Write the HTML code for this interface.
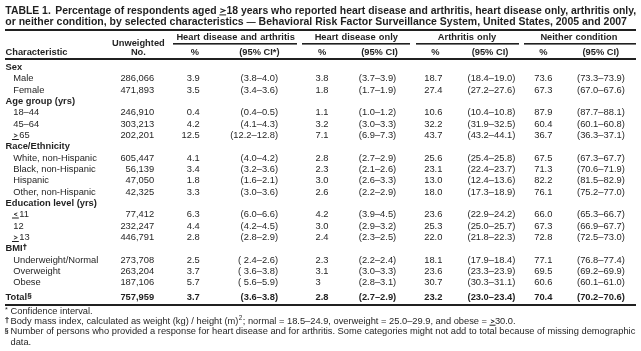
<!DOCTYPE html><html><head><meta charset="utf-8"><style>
html,body{margin:0;padding:0;background:#fff;}
body{width:641px;height:351px;position:relative;overflow:hidden;filter:grayscale(1);font-family:"Liberation Sans",sans-serif;color:#231f20;}
.t{position:absolute;white-space:nowrap;line-height:1;}
.b{font-weight:bold;}
.rule{position:absolute;background:#231f20;}
.ge{display:inline-block;overflow:visible;}
sup{font-size:62%;vertical-align:0;position:relative;top:-0.42em;}
u{text-decoration:underline;text-underline-offset:1.6px;text-decoration-thickness:1px;}

</style></head><body>
<div class="t b" style="left:5.30px;top:6.28px;font-size:10.425px">TABLE 1.<span style="display:inline-block;width:4.5px"></span>Percentage of respondents aged <svg class="ge" width="7.0" height="8.0" viewBox="0 0 7.0 8.0" style="vertical-align:-2px"><polyline points="0.30,0.70 5.00,2.60 0.30,4.50" fill="none" stroke="#231f20" stroke-width="1.1" stroke-linejoin="miter"/><rect x="-0.6" y="6.40" width="6.70" height="1" fill="#231f20"/></svg>18 years who reported heart disease and arthritis, heart disease only, arthritis only,</div>
<div class="t b" style="left:5.30px;top:16.92px;font-size:10.49px">or neither condition, by selected characteristics <span style="font-size:9.2px;position:relative;top:-0.3px">—</span> Behavioral Risk Factor Surveillance System, United States, 2005 and 2007</div>
<div class="rule" style="left:4.8px;top:29px;width:631.20px;height:2px"></div>
<div class="rule" style="left:173.3px;top:43px;width:123.40px;height:2px;background:linear-gradient(#231f20 0 1px,#7a7878 1px 2px)"></div>
<div class="rule" style="left:302.1px;top:43px;width:107.50px;height:2px;background:linear-gradient(#231f20 0 1px,#7a7878 1px 2px)"></div>
<div class="rule" style="left:415.9px;top:43px;width:102.80px;height:2px;background:linear-gradient(#231f20 0 1px,#7a7878 1px 2px)"></div>
<div class="rule" style="left:523.8px;top:43px;width:112.70px;height:2px;background:linear-gradient(#231f20 0 1px,#7a7878 1px 2px)"></div>
<div class="rule" style="left:4.8px;top:58px;width:631.20px;height:2px"></div>
<div class="rule" style="left:4.8px;top:304px;width:631.20px;height:2px"></div>
<div class="t b" style="left:-61.60px;width:400px;text-align:center;top:39.23px;font-size:9.3px">Unweighted</div>
<div class="t b" style="left:-61.60px;width:400px;text-align:center;top:48.33px;font-size:9.3px">No.</div>
<div class="t b" style="left:5.50px;top:48.33px;font-size:9.3px">Characteristic</div>
<div class="t b" style="left:35.60px;width:400px;text-align:center;top:33.23px;font-size:9.3px;word-spacing:0.55px">Heart disease and arthritis</div>
<div class="t b" style="left:-5.20px;width:400px;text-align:center;top:48.33px;font-size:9.3px">%</div>
<div class="t b" style="left:59.40px;width:400px;text-align:center;top:48.33px;font-size:9.3px">(95% CI*)</div>
<div class="t b" style="left:156.30px;width:400px;text-align:center;top:33.23px;font-size:9.3px;word-spacing:0.55px">Heart disease only</div>
<div class="t b" style="left:122.20px;width:400px;text-align:center;top:48.33px;font-size:9.3px">%</div>
<div class="t b" style="left:179.50px;width:400px;text-align:center;top:48.33px;font-size:9.3px">(95% CI)</div>
<div class="t b" style="left:267.00px;width:400px;text-align:center;top:33.23px;font-size:9.3px;word-spacing:0.55px">Arthritis only</div>
<div class="t b" style="left:235.40px;width:400px;text-align:center;top:48.33px;font-size:9.3px">%</div>
<div class="t b" style="left:290.00px;width:400px;text-align:center;top:48.33px;font-size:9.3px">(95% CI)</div>
<div class="t b" style="left:378.90px;width:400px;text-align:center;top:33.23px;font-size:9.3px;word-spacing:0.55px">Neither condition</div>
<div class="t b" style="left:343.30px;width:400px;text-align:center;top:48.33px;font-size:9.3px">%</div>
<div class="t b" style="left:400.80px;width:400px;text-align:center;top:48.33px;font-size:9.3px">(95% CI)</div>
<div class="t b" style="left:5.50px;top:63.09px;font-size:9.35px">Sex</div>
<div class="t " style="left:13.20px;top:74.42px;font-size:9.35px">Male</div>
<div class="t " style="right:486.80px;top:74.42px;font-size:9.35px">286,066</div>
<div class="t " style="left:186.80px;top:74.42px;font-size:9.35px">3.9</div>
<div class="t " style="right:363.00px;top:74.42px;font-size:9.35px">(3.8–4.0)</div>
<div class="t " style="left:315.50px;top:74.42px;font-size:9.35px">3.8</div>
<div class="t " style="right:244.80px;top:74.42px;font-size:9.35px">(3.7–3.9)</div>
<div class="t " style="left:424.20px;top:74.42px;font-size:9.35px">18.7</div>
<div class="t " style="right:125.70px;top:74.42px;font-size:9.35px">(18.4–19.0)</div>
<div class="t " style="left:534.20px;top:74.42px;font-size:9.35px">73.6</div>
<div class="t " style="right:16.20px;top:74.42px;font-size:9.35px">(73.3–73.9)</div>
<div class="t " style="left:13.20px;top:85.75px;font-size:9.35px">Female</div>
<div class="t " style="right:486.80px;top:85.75px;font-size:9.35px">471,893</div>
<div class="t " style="left:186.80px;top:85.75px;font-size:9.35px">3.5</div>
<div class="t " style="right:363.00px;top:85.75px;font-size:9.35px">(3.4–3.6)</div>
<div class="t " style="left:315.50px;top:85.75px;font-size:9.35px">1.8</div>
<div class="t " style="right:244.80px;top:85.75px;font-size:9.35px">(1.7–1.9)</div>
<div class="t " style="left:424.20px;top:85.75px;font-size:9.35px">27.4</div>
<div class="t " style="right:125.70px;top:85.75px;font-size:9.35px">(27.2–27.6)</div>
<div class="t " style="left:534.20px;top:85.75px;font-size:9.35px">67.3</div>
<div class="t " style="right:16.20px;top:85.75px;font-size:9.35px">(67.0–67.6)</div>
<div class="t b" style="left:5.50px;top:97.08px;font-size:9.35px">Age group (yrs)</div>
<div class="t " style="left:13.20px;top:108.41px;font-size:9.35px">18–44</div>
<div class="t " style="right:486.80px;top:108.41px;font-size:9.35px">246,910</div>
<div class="t " style="left:186.80px;top:108.41px;font-size:9.35px">0.4</div>
<div class="t " style="right:363.00px;top:108.41px;font-size:9.35px">(0.4–0.5)</div>
<div class="t " style="left:315.50px;top:108.41px;font-size:9.35px">1.1</div>
<div class="t " style="right:244.80px;top:108.41px;font-size:9.35px">(1.0–1.2)</div>
<div class="t " style="left:424.20px;top:108.41px;font-size:9.35px">10.6</div>
<div class="t " style="right:125.70px;top:108.41px;font-size:9.35px">(10.4–10.8)</div>
<div class="t " style="left:534.20px;top:108.41px;font-size:9.35px">87.9</div>
<div class="t " style="right:16.20px;top:108.41px;font-size:9.35px">(87.7–88.1)</div>
<div class="t " style="left:13.20px;top:119.74px;font-size:9.35px">45–64</div>
<div class="t " style="right:486.80px;top:119.74px;font-size:9.35px">303,213</div>
<div class="t " style="left:186.80px;top:119.74px;font-size:9.35px">4.2</div>
<div class="t " style="right:363.00px;top:119.74px;font-size:9.35px">(4.1–4.3)</div>
<div class="t " style="left:315.50px;top:119.74px;font-size:9.35px">3.2</div>
<div class="t " style="right:244.80px;top:119.74px;font-size:9.35px">(3.0–3.3)</div>
<div class="t " style="left:424.20px;top:119.74px;font-size:9.35px">32.2</div>
<div class="t " style="right:125.70px;top:119.74px;font-size:9.35px">(31.9–32.5)</div>
<div class="t " style="left:534.20px;top:119.74px;font-size:9.35px">60.4</div>
<div class="t " style="right:16.20px;top:119.74px;font-size:9.35px">(60.1–60.8)</div>
<div class="t " style="left:13.20px;top:131.07px;font-size:9.35px"><svg class="ge" width="6.0" height="8.0" viewBox="0 0 6.0 8.0" style="vertical-align:-2px"><polyline points="0.90,1.90 4.30,3.55 0.90,5.20" fill="none" stroke="#231f20" stroke-width="0.9" stroke-linejoin="miter"/><rect x="-1.0" y="7.00" width="6.80" height="1" fill="#231f20"/></svg>65</div>
<div class="t " style="right:486.80px;top:131.07px;font-size:9.35px">202,201</div>
<div class="t " style="left:181.60px;top:131.07px;font-size:9.35px">12.5</div>
<div class="t " style="right:363.00px;top:131.07px;font-size:9.35px">(12.2–12.8)</div>
<div class="t " style="left:315.50px;top:131.07px;font-size:9.35px">7.1</div>
<div class="t " style="right:244.80px;top:131.07px;font-size:9.35px">(6.9–7.3)</div>
<div class="t " style="left:424.20px;top:131.07px;font-size:9.35px">43.7</div>
<div class="t " style="right:125.70px;top:131.07px;font-size:9.35px">(43.2–44.1)</div>
<div class="t " style="left:534.20px;top:131.07px;font-size:9.35px">36.7</div>
<div class="t " style="right:16.20px;top:131.07px;font-size:9.35px">(36.3–37.1)</div>
<div class="t b" style="left:5.50px;top:142.40px;font-size:9.35px">Race/Ethnicity</div>
<div class="t " style="left:13.20px;top:153.73px;font-size:9.35px">White, non-Hispanic</div>
<div class="t " style="right:486.80px;top:153.73px;font-size:9.35px">605,447</div>
<div class="t " style="left:186.80px;top:153.73px;font-size:9.35px">4.1</div>
<div class="t " style="right:363.00px;top:153.73px;font-size:9.35px">(4.0–4.2)</div>
<div class="t " style="left:315.50px;top:153.73px;font-size:9.35px">2.8</div>
<div class="t " style="right:244.80px;top:153.73px;font-size:9.35px">(2.7–2.9)</div>
<div class="t " style="left:424.20px;top:153.73px;font-size:9.35px">25.6</div>
<div class="t " style="right:125.70px;top:153.73px;font-size:9.35px">(25.4–25.8)</div>
<div class="t " style="left:534.20px;top:153.73px;font-size:9.35px">67.5</div>
<div class="t " style="right:16.20px;top:153.73px;font-size:9.35px">(67.3–67.7)</div>
<div class="t " style="left:13.20px;top:165.06px;font-size:9.35px">Black, non-Hispanic</div>
<div class="t " style="right:486.80px;top:165.06px;font-size:9.35px">56,139</div>
<div class="t " style="left:186.80px;top:165.06px;font-size:9.35px">3.4</div>
<div class="t " style="right:363.00px;top:165.06px;font-size:9.35px">(3.2–3.6)</div>
<div class="t " style="left:315.50px;top:165.06px;font-size:9.35px">2.3</div>
<div class="t " style="right:244.80px;top:165.06px;font-size:9.35px">(2.1–2.6)</div>
<div class="t " style="left:424.20px;top:165.06px;font-size:9.35px">23.1</div>
<div class="t " style="right:125.70px;top:165.06px;font-size:9.35px">(22.4–23.7)</div>
<div class="t " style="left:534.20px;top:165.06px;font-size:9.35px">71.3</div>
<div class="t " style="right:16.20px;top:165.06px;font-size:9.35px">(70.6–71.9)</div>
<div class="t " style="left:13.20px;top:176.39px;font-size:9.35px">Hispanic</div>
<div class="t " style="right:486.80px;top:176.39px;font-size:9.35px">47,050</div>
<div class="t " style="left:186.80px;top:176.39px;font-size:9.35px">1.8</div>
<div class="t " style="right:363.00px;top:176.39px;font-size:9.35px">(1.6–2.1)</div>
<div class="t " style="left:315.50px;top:176.39px;font-size:9.35px">3.0</div>
<div class="t " style="right:244.80px;top:176.39px;font-size:9.35px">(2.6–3.3)</div>
<div class="t " style="left:424.20px;top:176.39px;font-size:9.35px">13.0</div>
<div class="t " style="right:125.70px;top:176.39px;font-size:9.35px">(12.4–13.6)</div>
<div class="t " style="left:534.20px;top:176.39px;font-size:9.35px">82.2</div>
<div class="t " style="right:16.20px;top:176.39px;font-size:9.35px">(81.5–82.9)</div>
<div class="t " style="left:13.20px;top:187.72px;font-size:9.35px">Other, non-Hispanic</div>
<div class="t " style="right:486.80px;top:187.72px;font-size:9.35px">42,325</div>
<div class="t " style="left:186.80px;top:187.72px;font-size:9.35px">3.3</div>
<div class="t " style="right:363.00px;top:187.72px;font-size:9.35px">(3.0–3.6)</div>
<div class="t " style="left:315.50px;top:187.72px;font-size:9.35px">2.6</div>
<div class="t " style="right:244.80px;top:187.72px;font-size:9.35px">(2.2–2.9)</div>
<div class="t " style="left:424.20px;top:187.72px;font-size:9.35px">18.0</div>
<div class="t " style="right:125.70px;top:187.72px;font-size:9.35px">(17.3–18.9)</div>
<div class="t " style="left:534.20px;top:187.72px;font-size:9.35px">76.1</div>
<div class="t " style="right:16.20px;top:187.72px;font-size:9.35px">(75.2–77.0)</div>
<div class="t b" style="left:5.50px;top:199.05px;font-size:9.35px">Education level (yrs)</div>
<div class="t " style="left:13.20px;top:210.38px;font-size:9.35px"><svg class="ge" width="6.0" height="8.0" viewBox="0 0 6.0 8.0" style="vertical-align:-2px"><polyline points="4.30,1.90 1.10,3.30 4.30,4.70" fill="none" stroke="#231f20" stroke-width="0.9" stroke-linejoin="miter"/><rect x="-1.0" y="6.50" width="6.80" height="1" fill="#231f20"/></svg>11</div>
<div class="t " style="right:486.80px;top:210.38px;font-size:9.35px">77,412</div>
<div class="t " style="left:186.80px;top:210.38px;font-size:9.35px">6.3</div>
<div class="t " style="right:363.00px;top:210.38px;font-size:9.35px">(6.0–6.6)</div>
<div class="t " style="left:315.50px;top:210.38px;font-size:9.35px">4.2</div>
<div class="t " style="right:244.80px;top:210.38px;font-size:9.35px">(3.9–4.5)</div>
<div class="t " style="left:424.20px;top:210.38px;font-size:9.35px">23.6</div>
<div class="t " style="right:125.70px;top:210.38px;font-size:9.35px">(22.9–24.2)</div>
<div class="t " style="left:534.20px;top:210.38px;font-size:9.35px">66.0</div>
<div class="t " style="right:16.20px;top:210.38px;font-size:9.35px">(65.3–66.7)</div>
<div class="t " style="left:13.20px;top:221.71px;font-size:9.35px">12</div>
<div class="t " style="right:486.80px;top:221.71px;font-size:9.35px">232,247</div>
<div class="t " style="left:186.80px;top:221.71px;font-size:9.35px">4.4</div>
<div class="t " style="right:363.00px;top:221.71px;font-size:9.35px">(4.2–4.5)</div>
<div class="t " style="left:315.50px;top:221.71px;font-size:9.35px">3.0</div>
<div class="t " style="right:244.80px;top:221.71px;font-size:9.35px">(2.9–3.2)</div>
<div class="t " style="left:424.20px;top:221.71px;font-size:9.35px">25.3</div>
<div class="t " style="right:125.70px;top:221.71px;font-size:9.35px">(25.0–25.7)</div>
<div class="t " style="left:534.20px;top:221.71px;font-size:9.35px">67.3</div>
<div class="t " style="right:16.20px;top:221.71px;font-size:9.35px">(66.9–67.7)</div>
<div class="t " style="left:13.20px;top:233.04px;font-size:9.35px"><svg class="ge" width="6.0" height="8.0" viewBox="0 0 6.0 8.0" style="vertical-align:-2px"><polyline points="0.90,1.90 4.30,3.55 0.90,5.20" fill="none" stroke="#231f20" stroke-width="0.9" stroke-linejoin="miter"/><rect x="-1.0" y="7.00" width="6.80" height="1" fill="#231f20"/></svg>13</div>
<div class="t " style="right:486.80px;top:233.04px;font-size:9.35px">446,791</div>
<div class="t " style="left:186.80px;top:233.04px;font-size:9.35px">2.8</div>
<div class="t " style="right:363.00px;top:233.04px;font-size:9.35px">(2.8–2.9)</div>
<div class="t " style="left:315.50px;top:233.04px;font-size:9.35px">2.4</div>
<div class="t " style="right:244.80px;top:233.04px;font-size:9.35px">(2.3–2.5)</div>
<div class="t " style="left:424.20px;top:233.04px;font-size:9.35px">22.0</div>
<div class="t " style="right:125.70px;top:233.04px;font-size:9.35px">(21.8–22.3)</div>
<div class="t " style="left:534.20px;top:233.04px;font-size:9.35px">72.8</div>
<div class="t " style="right:16.20px;top:233.04px;font-size:9.35px">(72.5–73.0)</div>
<div class="t b" style="left:5.50px;top:244.37px;font-size:9.35px">BMI</div>
<div class="t " style="left:13.20px;top:255.70px;font-size:9.35px">Underweight/Normal</div>
<div class="t " style="right:486.80px;top:255.70px;font-size:9.35px">273,708</div>
<div class="t " style="left:186.80px;top:255.70px;font-size:9.35px">2.5</div>
<div class="t " style="right:363.00px;top:255.70px;font-size:9.35px">( 2.4–2.6)</div>
<div class="t " style="left:315.50px;top:255.70px;font-size:9.35px">2.3</div>
<div class="t " style="right:244.80px;top:255.70px;font-size:9.35px">(2.2–2.4)</div>
<div class="t " style="left:424.20px;top:255.70px;font-size:9.35px">18.1</div>
<div class="t " style="right:125.70px;top:255.70px;font-size:9.35px">(17.9–18.4)</div>
<div class="t " style="left:534.20px;top:255.70px;font-size:9.35px">77.1</div>
<div class="t " style="right:16.20px;top:255.70px;font-size:9.35px">(76.8–77.4)</div>
<div class="t " style="left:13.20px;top:267.03px;font-size:9.35px">Overweight</div>
<div class="t " style="right:486.80px;top:267.03px;font-size:9.35px">263,204</div>
<div class="t " style="left:186.80px;top:267.03px;font-size:9.35px">3.7</div>
<div class="t " style="right:363.00px;top:267.03px;font-size:9.35px">( 3.6–3.8)</div>
<div class="t " style="left:315.50px;top:267.03px;font-size:9.35px">3.1</div>
<div class="t " style="right:244.80px;top:267.03px;font-size:9.35px">(3.0–3.3)</div>
<div class="t " style="left:424.20px;top:267.03px;font-size:9.35px">23.6</div>
<div class="t " style="right:125.70px;top:267.03px;font-size:9.35px">(23.3–23.9)</div>
<div class="t " style="left:534.20px;top:267.03px;font-size:9.35px">69.5</div>
<div class="t " style="right:16.20px;top:267.03px;font-size:9.35px">(69.2–69.9)</div>
<div class="t " style="left:13.20px;top:278.36px;font-size:9.35px">Obese</div>
<div class="t " style="right:486.80px;top:278.36px;font-size:9.35px">187,106</div>
<div class="t " style="left:186.80px;top:278.36px;font-size:9.35px">5.7</div>
<div class="t " style="right:363.00px;top:278.36px;font-size:9.35px">( 5.6–5.9)</div>
<div class="t " style="left:315.50px;top:278.36px;font-size:9.35px">3</div>
<div class="t " style="right:244.80px;top:278.36px;font-size:9.35px">(2.8–3.1)</div>
<div class="t " style="left:424.20px;top:278.36px;font-size:9.35px">30.7</div>
<div class="t " style="right:125.70px;top:278.36px;font-size:9.35px">(30.3–31.1)</div>
<div class="t " style="left:534.20px;top:278.36px;font-size:9.35px">60.6</div>
<div class="t " style="right:16.20px;top:278.36px;font-size:9.35px">(60.1–61.0)</div>
<div class="t b" style="left:5.50px;top:293.09px;font-size:9.35px">Total</div>
<div class="t b" style="right:486.80px;top:293.09px;font-size:9.35px">757,959</div>
<div class="t b" style="left:186.80px;top:293.09px;font-size:9.35px">3.7</div>
<div class="t b" style="right:363.00px;top:293.09px;font-size:9.35px">(3.6–3.8)</div>
<div class="t b" style="left:315.50px;top:293.09px;font-size:9.35px">2.8</div>
<div class="t b" style="right:244.80px;top:293.09px;font-size:9.35px">(2.7–2.9)</div>
<div class="t b" style="left:424.20px;top:293.09px;font-size:9.35px">23.2</div>
<div class="t b" style="right:125.70px;top:293.09px;font-size:9.35px">(23.0–23.4)</div>
<div class="t b" style="left:534.20px;top:293.09px;font-size:9.35px">70.4</div>
<div class="t b" style="right:16.20px;top:293.09px;font-size:9.35px">(70.2–70.6)</div>
<div class="t b" style="left:22.70px;top:243.19px;font-size:7.2px"><span style="-webkit-text-stroke:0.3px">†</span></div>
<div class="t b" style="left:27.50px;top:292.44px;font-size:7.4px"><span style="-webkit-text-stroke:0.2px">§</span></div>
<div class="t " style="left:5.10px;top:306.16px;font-size:7.2px">*</div>
<div class="t " style="left:10.50px;top:307.03px;font-size:9.3px">Confidence interval.</div>
<div class="t " style="left:5.00px;top:315.71px;font-size:7.2px"><span style="-webkit-text-stroke:0.25px">†</span></div>
<div class="t " style="left:10.50px;top:316.63px;font-size:9.3px">Body mass index, calculated as weight (kg) / height (m)<sup style="font-size:6.3px;top:-3.6px;margin:0 0.5px 0 0.4px">2</sup>; normal = 18.5–24.9, overweight = 25.0–29.9, and obese = <svg class="ge" width="5.3" height="8.0" viewBox="0 0 5.3 8.0" style="vertical-align:-2px"><polyline points="0.90,1.80 4.30,3.32 0.90,4.85" fill="none" stroke="#231f20" stroke-width="0.9" stroke-linejoin="miter"/><rect x="-0.5" y="6.70" width="6.00" height="1" fill="#231f20"/></svg>30.0.</div>
<div class="t " style="left:4.60px;top:326.81px;font-size:7.2px"><span style="-webkit-text-stroke:0.2px">§</span></div>
<div class="t " style="left:10.50px;top:326.73px;font-size:9.3px">Number of persons who provided a response for heart disease and for arthritis. Some categories might not add to total because of missing demographic</div>
<div class="t " style="left:10.50px;top:337.53px;font-size:9.3px">data.</div>
</body></html>
